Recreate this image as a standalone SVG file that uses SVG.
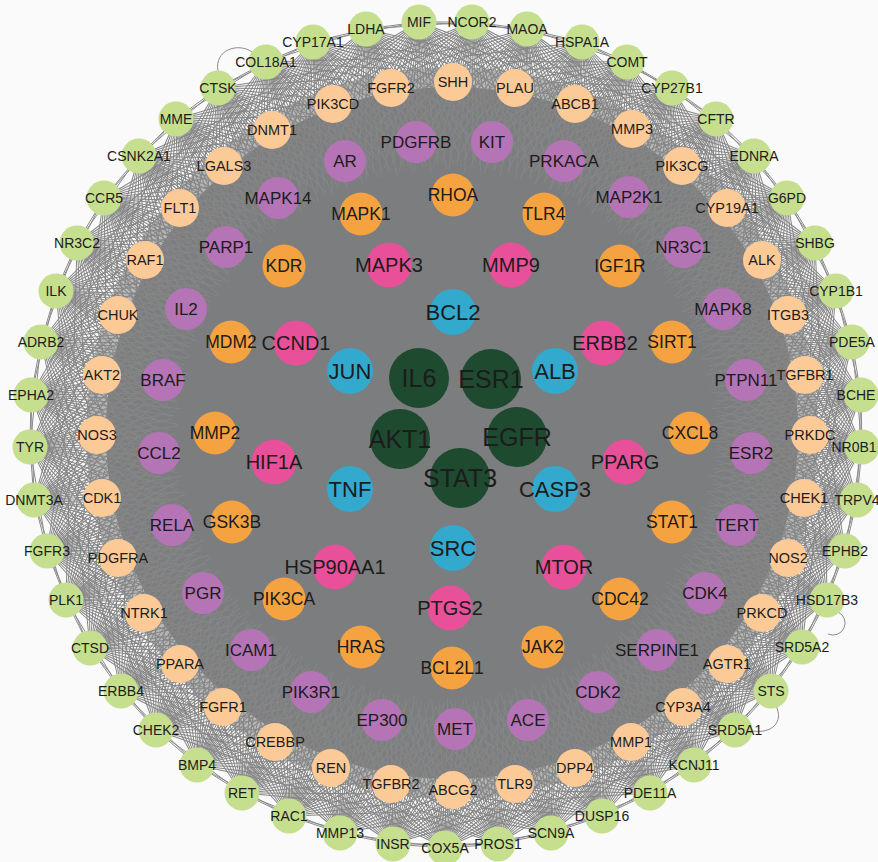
<svg xmlns="http://www.w3.org/2000/svg" xmlns:xlink="http://www.w3.org/1999/xlink" width="878" height="862" viewBox="0 0 878 862">
<style>
text{font-family:"Liberation Sans",Arial,sans-serif;text-anchor:middle;dominant-baseline:central;fill:#1c1c1c}
.d circle{fill:#1e4a2f}.d text{font-size:25px}
.b circle{fill:#33a9cd}.b text{font-size:22px}
.k circle{fill:#e9509a}.k text{font-size:20px}
.o circle{fill:#f5a340}.o text{font-size:17.5px}
.u circle{fill:#b474b6}.u text{font-size:17px}
.p circle{fill:#fcca97}.p text{font-size:14.5px}
.g circle{fill:#c6df8f}.g text{font-size:14px}
.fan{fill:none;stroke:#868686;stroke-width:1}
.ring{fill:none;stroke:#8a8a8a;stroke-width:1}
</style>
<defs>
<path id="fA" class="fan" d="M0 0H-150M0 0L-149 16M0 0L-149 -16M0 0L-147 31M0 0L-147 -31M0 0L-143 46M0 0L-143 -46M0 0L-136 63M0 0L-136 -63M0 0L-127 80M0 0L-127 -80M0 0L-111 93M0 0L-111 -93M0 0L-87 103M0 0L-87 -103M0 0L-62 108M0 0L-62 -108"/>
<path id="fB" class="fan" d="M0 0L-145 8M0 0L-145 -8M0 0L-143 23M0 0L-143 -23M0 0L-140 38M0 0L-140 -38M0 0L-134 54M0 0L-134 -54M0 0L-127 70M0 0L-127 -70M0 0L-113 82M0 0L-113 -82M0 0L-99 99M0 0L-99 -99M0 0L-75 107M0 0L-75 -107M0 0L-51 109M0 0L-51 -109"/>
<g id="f2"><use href="#fA"/><use href="#fB"/></g>
</defs>
<rect width="878" height="862" fill="#fafafa"/>
<g id="connectors">
<circle cx="452" cy="433" r="366" fill="#7e7f81" fill-opacity="0.55"/>
<circle cx="452" cy="433" r="346" fill="#7c7d7f"/>
<use href="#f2" transform="translate(419 22) rotate(-94.5)"/>
<use href="#f2" transform="translate(472 22) rotate(-87.2)"/>
<use href="#f2" transform="translate(527 29) rotate(-79.6)"/>
<use href="#f2" transform="translate(582 42) rotate(-71.8)"/>
<use href="#f2" transform="translate(627 62) rotate(-64.7)"/>
<use href="#f2" transform="translate(672 88) rotate(-57.4)"/>
<use href="#f2" transform="translate(716 119) rotate(-49.8)"/>
<use href="#f2" transform="translate(754 156) rotate(-42.5)"/>
<use href="#f2" transform="translate(787 198) rotate(-34.9)"/>
<use href="#f2" transform="translate(815 243) rotate(-27.5)"/>
<use href="#f2" transform="translate(836 291) rotate(-20.2)"/>
<use href="#f2" transform="translate(852 342) rotate(-12.7)"/>
<use href="#f2" transform="translate(861 395) rotate(-5.3)"/>
<use href="#f2" transform="translate(862 447) rotate(2.1)"/>
<use href="#f2" transform="translate(857 500) rotate(9.5)"/>
<use href="#f2" transform="translate(845 551) rotate(16.7)"/>
<use href="#f2" transform="translate(827 600) rotate(24.1)"/>
<use href="#f2" transform="translate(802 647) rotate(31.6)"/>
<use href="#f2" transform="translate(771 691) rotate(39.1)"/>
<use href="#f2" transform="translate(735 730) rotate(46.5)"/>
<use href="#f2" transform="translate(694 765) rotate(53.9)"/>
<use href="#f2" transform="translate(650 793) rotate(61.3)"/>
<use href="#f2" transform="translate(602 816) rotate(68.6)"/>
<use href="#f2" transform="translate(551 833) rotate(76.1)"/>
<use href="#f2" transform="translate(498 844) rotate(83.6)"/>
<use href="#f2" transform="translate(445 848) rotate(91)"/>
<use href="#f2" transform="translate(393 844) rotate(98.2)"/>
<use href="#f2" transform="translate(340 833) rotate(105.5)"/>
<use href="#f2" transform="translate(289 816) rotate(113.1)"/>
<use href="#f2" transform="translate(242 793) rotate(120.2)"/>
<use href="#f2" transform="translate(197 765) rotate(127.5)"/>
<use href="#f2" transform="translate(156 730) rotate(134.8)"/>
<use href="#f2" transform="translate(121 691) rotate(142)"/>
<use href="#f2" transform="translate(90 648) rotate(149.3)"/>
<use href="#f2" transform="translate(66 600) rotate(156.5)"/>
<use href="#f2" transform="translate(47 551) rotate(163.8)"/>
<use href="#f2" transform="translate(34 500) rotate(170.8)"/>
<use href="#f2" transform="translate(30 447) rotate(178)"/>
<use href="#f2" transform="translate(31 395) rotate(-174.8)"/>
<use href="#f2" transform="translate(41 342) rotate(-167.7)"/>
<use href="#f2" transform="translate(56 291) rotate(-160.4)"/>
<use href="#f2" transform="translate(77 243) rotate(-153.3)"/>
<use href="#f2" transform="translate(104 198) rotate(-146)"/>
<use href="#f2" transform="translate(139 156) rotate(-138.7)"/>
<use href="#f2" transform="translate(176 119) rotate(-131.3)"/>
<use href="#f2" transform="translate(218 88) rotate(-124.2)"/>
<use href="#f2" transform="translate(266 62) rotate(-116.8)"/>
<use href="#f2" transform="translate(313 42) rotate(-109.5)"/>
<use href="#f2" transform="translate(366 29) rotate(-102)"/>
<polygon class="ring" points="419,22 472,22 527,29 582,42 627,62 672,88 716,119 754,156 787,198 815,243 836,291 852,342 861,395 862,447 857,500 845,551 827,600 802,647 771,691 735,730 694,765 650,793 602,816 551,833 498,844 445,848 393,844 340,833 289,816 242,793 197,765 156,730 121,691 90,648 66,600 47,551 34,500 30,447 31,395 41,342 56,291 77,243 104,198 139,156 176,119 218,88 266,62 313,42 366,29"/>
<polygon class="ring" points="419,22 527,29 627,62 716,119 787,198 836,291 861,395 857,500 827,600 771,691 694,765 602,816 498,844 393,844 289,816 197,765 121,691 66,600 34,500 31,395 56,291 104,198 176,119 266,62 366,29 472,22 582,42 672,88 754,156 815,243 852,342 862,447 845,551 802,647 735,730 650,793 551,833 445,848 340,833 242,793 156,730 90,648 47,551 30,447 41,342 77,243 139,156 218,88 313,42"/>
<path class="ring" d="M218 71C214 50 238 42 252 52M776 706C784 722 772 734 752 731M838 612A12 12 0 1 1 828 634"/>
</g>
<g id="nodes">
<g id="MIF" class="g"><circle cx="419" cy="22" r="17.5"/><text x="419" y="22">MIF</text></g>
<g id="NCOR2" class="g"><circle cx="472" cy="22" r="17.5"/><text x="472" y="22">NCOR2</text></g>
<g id="MAOA" class="g"><circle cx="527" cy="29" r="17.5"/><text x="527" y="29">MAOA</text></g>
<g id="HSPA1A" class="g"><circle cx="582" cy="42" r="17.5"/><text x="582" y="42">HSPA1A</text></g>
<g id="COMT" class="g"><circle cx="627" cy="62" r="17.5"/><text x="627" y="62">COMT</text></g>
<g id="CYP27B1" class="g"><circle cx="672" cy="88" r="17.5"/><text x="672" y="88">CYP27B1</text></g>
<g id="CFTR" class="g"><circle cx="716" cy="119" r="17.5"/><text x="716" y="119">CFTR</text></g>
<g id="EDNRA" class="g"><circle cx="754" cy="156" r="17.5"/><text x="754" y="156">EDNRA</text></g>
<g id="G6PD" class="g"><circle cx="787" cy="198" r="17.5"/><text x="787" y="198">G6PD</text></g>
<g id="SHBG" class="g"><circle cx="815" cy="243" r="17.5"/><text x="815" y="243">SHBG</text></g>
<g id="CYP1B1" class="g"><circle cx="836" cy="291" r="17.5"/><text x="836" y="291">CYP1B1</text></g>
<g id="PDE5A" class="g"><circle cx="852" cy="342" r="17.5"/><text x="852" y="342">PDE5A</text></g>
<g id="BCHE" class="g"><circle cx="861" cy="395" r="17.5"/><text x="856" y="395">BCHE</text></g>
<g id="NR0B1" class="g"><circle cx="862" cy="447" r="17.5"/><text x="854" y="447">NR0B1</text></g>
<g id="TRPV4" class="g"><circle cx="857" cy="500" r="17.5"/><text x="857" y="500">TRPV4</text></g>
<g id="EPHB2" class="g"><circle cx="845" cy="551" r="17.5"/><text x="845" y="551">EPHB2</text></g>
<g id="HSD17B3" class="g"><circle cx="827" cy="600" r="17.5"/><text x="827" y="600">HSD17B3</text></g>
<g id="SRD5A2" class="g"><circle cx="802" cy="647" r="17.5"/><text x="802" y="647">SRD5A2</text></g>
<g id="STS" class="g"><circle cx="771" cy="691" r="17.5"/><text x="771" y="691">STS</text></g>
<g id="SRD5A1" class="g"><circle cx="735" cy="730" r="17.5"/><text x="735" y="730">SRD5A1</text></g>
<g id="KCNJ11" class="g"><circle cx="694" cy="765" r="17.5"/><text x="694" y="765">KCNJ11</text></g>
<g id="PDE11A" class="g"><circle cx="650" cy="793" r="17.5"/><text x="650" y="793">PDE11A</text></g>
<g id="DUSP16" class="g"><circle cx="602" cy="816" r="17.5"/><text x="602" y="816">DUSP16</text></g>
<g id="SCN9A" class="g"><circle cx="551" cy="833" r="17.5"/><text x="551" y="833">SCN9A</text></g>
<g id="PROS1" class="g"><circle cx="498" cy="844" r="17.5"/><text x="498" y="844">PROS1</text></g>
<g id="COX5A" class="g"><circle cx="445" cy="848" r="17.5"/><text x="445" y="848">COX5A</text></g>
<g id="INSR" class="g"><circle cx="393" cy="844" r="17.5"/><text x="393" y="844">INSR</text></g>
<g id="MMP13" class="g"><circle cx="340" cy="833" r="17.5"/><text x="340" y="833">MMP13</text></g>
<g id="RAC1" class="g"><circle cx="289" cy="816" r="17.5"/><text x="289" y="816">RAC1</text></g>
<g id="RET" class="g"><circle cx="242" cy="793" r="17.5"/><text x="242" y="793">RET</text></g>
<g id="BMP4" class="g"><circle cx="197" cy="765" r="17.5"/><text x="197" y="765">BMP4</text></g>
<g id="CHEK2" class="g"><circle cx="156" cy="730" r="17.5"/><text x="156" y="730">CHEK2</text></g>
<g id="ERBB4" class="g"><circle cx="121" cy="691" r="17.5"/><text x="121" y="691">ERBB4</text></g>
<g id="CTSD" class="g"><circle cx="90" cy="648" r="17.5"/><text x="90" y="648">CTSD</text></g>
<g id="PLK1" class="g"><circle cx="66" cy="600" r="17.5"/><text x="66" y="600">PLK1</text></g>
<g id="FGFR3" class="g"><circle cx="47" cy="551" r="17.5"/><text x="47" y="551">FGFR3</text></g>
<g id="DNMT3A" class="g"><circle cx="34" cy="500" r="17.5"/><text x="34" y="500">DNMT3A</text></g>
<g id="TYR" class="g"><circle cx="30" cy="447" r="17.5"/><text x="30" y="447">TYR</text></g>
<g id="EPHA2" class="g"><circle cx="31" cy="395" r="17.5"/><text x="31" y="395">EPHA2</text></g>
<g id="ADRB2" class="g"><circle cx="41" cy="342" r="17.5"/><text x="41" y="342">ADRB2</text></g>
<g id="ILK" class="g"><circle cx="56" cy="291" r="17.5"/><text x="56" y="291">ILK</text></g>
<g id="NR3C2" class="g"><circle cx="77" cy="243" r="17.5"/><text x="77" y="243">NR3C2</text></g>
<g id="CCR5" class="g"><circle cx="104" cy="198" r="17.5"/><text x="104" y="198">CCR5</text></g>
<g id="CSNK2A1" class="g"><circle cx="139" cy="156" r="17.5"/><text x="139" y="156">CSNK2A1</text></g>
<g id="MME" class="g"><circle cx="176" cy="119" r="17.5"/><text x="176" y="119">MME</text></g>
<g id="CTSK" class="g"><circle cx="218" cy="88" r="17.5"/><text x="218" y="88">CTSK</text></g>
<g id="COL18A1" class="g"><circle cx="266" cy="62" r="17.5"/><text x="266" y="62">COL18A1</text></g>
<g id="CYP17A1" class="g"><circle cx="313" cy="42" r="17.5"/><text x="313" y="42">CYP17A1</text></g>
<g id="LDHA" class="g"><circle cx="366" cy="29" r="17.5"/><text x="366" y="29">LDHA</text></g>

<g id="FGFR2" class="p"><circle cx="391" cy="88" r="19"/><text x="391" y="88">FGFR2</text></g>
<g id="SHH" class="p"><circle cx="453" cy="82" r="19"/><text x="453" y="82">SHH</text></g>
<g id="PLAU" class="p"><circle cx="515" cy="88" r="19"/><text x="515" y="88">PLAU</text></g>
<g id="PIK3CD" class="p"><circle cx="333" cy="104" r="19"/><text x="333" y="104">PIK3CD</text></g>
<g id="ABCB1" class="p"><circle cx="575" cy="104" r="19"/><text x="575" y="104">ABCB1</text></g>
<g id="DNMT1" class="p"><circle cx="272" cy="130" r="19"/><text x="272" y="130">DNMT1</text></g>
<g id="MMP3" class="p"><circle cx="632" cy="129" r="19"/><text x="632" y="129">MMP3</text></g>
<g id="LGALS3" class="p"><circle cx="224" cy="166" r="19"/><text x="224" y="166">LGALS3</text></g>
<g id="PIK3CG" class="p"><circle cx="682" cy="166" r="19"/><text x="682" y="166">PIK3CG</text></g>
<g id="FLT1" class="p"><circle cx="180" cy="208" r="19"/><text x="180" y="208">FLT1</text></g>
<g id="CYP19A1" class="p"><circle cx="727" cy="208" r="19"/><text x="727" y="208">CYP19A1</text></g>
<g id="RAF1" class="p"><circle cx="145" cy="260" r="19"/><text x="145" y="260">RAF1</text></g>
<g id="ALK" class="p"><circle cx="762" cy="260" r="19"/><text x="762" y="260">ALK</text></g>
<g id="CHUK" class="p"><circle cx="118" cy="315" r="19"/><text x="118" y="315">CHUK</text></g>
<g id="ITGB3" class="p"><circle cx="788" cy="315" r="19"/><text x="788" y="315">ITGB3</text></g>
<g id="AKT2" class="p"><circle cx="102" cy="375" r="19"/><text x="102" y="375">AKT2</text></g>
<g id="TGFBR1" class="p"><circle cx="805" cy="375" r="19"/><text x="805" y="375">TGFBR1</text></g>
<g id="NOS3" class="p"><circle cx="97" cy="435" r="19"/><text x="97" y="435">NOS3</text></g>
<g id="PRKDC" class="p"><circle cx="810" cy="435" r="19"/><text x="810" y="435">PRKDC</text></g>
<g id="CDK1" class="p"><circle cx="102" cy="498" r="19"/><text x="102" y="498">CDK1</text></g>
<g id="CHEK1" class="p"><circle cx="804" cy="498" r="19"/><text x="804" y="498">CHEK1</text></g>
<g id="PDGFRA" class="p"><circle cx="118" cy="558" r="19"/><text x="118" y="558">PDGFRA</text></g>
<g id="NOS2" class="p"><circle cx="788" cy="558" r="19"/><text x="788" y="558">NOS2</text></g>
<g id="NTRK1" class="p"><circle cx="144" cy="613" r="19"/><text x="144" y="613">NTRK1</text></g>
<g id="PRKCD" class="p"><circle cx="762" cy="613" r="19"/><text x="762" y="613">PRKCD</text></g>
<g id="PPARA" class="p"><circle cx="180" cy="664" r="19"/><text x="180" y="664">PPARA</text></g>
<g id="AGTR1" class="p"><circle cx="727" cy="664" r="19"/><text x="727" y="664">AGTR1</text></g>
<g id="FGFR1" class="p"><circle cx="223" cy="707" r="19"/><text x="223" y="707">FGFR1</text></g>
<g id="CYP3A4" class="p"><circle cx="683" cy="707" r="19"/><text x="683" y="707">CYP3A4</text></g>
<g id="CREBBP" class="p"><circle cx="275" cy="742" r="19"/><text x="275" y="742">CREBBP</text></g>
<g id="MMP1" class="p"><circle cx="631" cy="742" r="19"/><text x="631" y="742">MMP1</text></g>
<g id="REN" class="p"><circle cx="331" cy="768" r="19"/><text x="331" y="768">REN</text></g>
<g id="DPP4" class="p"><circle cx="575" cy="768" r="19"/><text x="575" y="768">DPP4</text></g>
<g id="TGFBR2" class="p"><circle cx="391" cy="784" r="19"/><text x="391" y="784">TGFBR2</text></g>
<g id="TLR9" class="p"><circle cx="515" cy="784" r="19"/><text x="515" y="784">TLR9</text></g>
<g id="ABCG2" class="p"><circle cx="453" cy="790" r="19"/><text x="453" y="790">ABCG2</text></g>

<g id="PDGFRB" class="u"><circle cx="416" cy="142" r="21"/><text x="416" y="142">PDGFRB</text></g>
<g id="KIT" class="u"><circle cx="492" cy="142" r="21"/><text x="492" y="142">KIT</text></g>
<g id="AR" class="u"><circle cx="345" cy="161" r="21"/><text x="345" y="161">AR</text></g>
<g id="PRKACA" class="u"><circle cx="564" cy="161" r="21"/><text x="564" y="161">PRKACA</text></g>
<g id="MAPK14" class="u"><circle cx="278" cy="198" r="21"/><text x="278" y="198">MAPK14</text></g>
<g id="MAP2K1" class="u"><circle cx="629" cy="197" r="21"/><text x="629" y="197">MAP2K1</text></g>
<g id="PARP1" class="u"><circle cx="226" cy="247" r="21"/><text x="226" y="247">PARP1</text></g>
<g id="NR3C1" class="u"><circle cx="683" cy="247" r="21"/><text x="683" y="247">NR3C1</text></g>
<g id="IL2" class="u"><circle cx="186" cy="309" r="21"/><text x="186" y="309">IL2</text></g>
<g id="MAPK8" class="u"><circle cx="723" cy="309" r="21"/><text x="723" y="309">MAPK8</text></g>
<g id="BRAF" class="u"><circle cx="163" cy="380" r="21"/><text x="163" y="380">BRAF</text></g>
<g id="PTPN11" class="u"><circle cx="746" cy="380" r="21"/><text x="746" y="380">PTPN11</text></g>
<g id="CCL2" class="u"><circle cx="159" cy="453" r="21"/><text x="159" y="453">CCL2</text></g>
<g id="ESR2" class="u"><circle cx="751" cy="453" r="21"/><text x="751" y="453">ESR2</text></g>
<g id="RELA" class="u"><circle cx="172" cy="525" r="21"/><text x="172" y="525">RELA</text></g>
<g id="TERT" class="u"><circle cx="737" cy="525" r="21"/><text x="737" y="525">TERT</text></g>
<g id="PGR" class="u"><circle cx="203" cy="593" r="21"/><text x="203" y="593">PGR</text></g>
<g id="CDK4" class="u"><circle cx="705" cy="593" r="21"/><text x="705" y="593">CDK4</text></g>
<g id="ICAM1" class="u"><circle cx="251" cy="650" r="21"/><text x="251" y="650">ICAM1</text></g>
<g id="SERPINE1" class="u"><circle cx="657" cy="650" r="21"/><text x="657" y="650">SERPINE1</text></g>
<g id="PIK3R1" class="u"><circle cx="311" cy="692" r="21"/><text x="311" y="692">PIK3R1</text></g>
<g id="CDK2" class="u"><circle cx="598" cy="692" r="21"/><text x="598" y="692">CDK2</text></g>
<g id="EP300" class="u"><circle cx="382" cy="720" r="21"/><text x="382" y="720">EP300</text></g>
<g id="MET" class="u"><circle cx="455" cy="729" r="21"/><text x="455" y="729">MET</text></g>
<g id="ACE" class="u"><circle cx="528" cy="720" r="21"/><text x="528" y="720">ACE</text></g>

<g id="RHOA" class="o"><circle cx="453" cy="195" r="21.5"/><text x="453" y="195">RHOA</text></g>
<g id="MAPK1" class="o"><circle cx="361" cy="214" r="21.5"/><text x="361" y="214">MAPK1</text></g>
<g id="TLR4" class="o"><circle cx="544" cy="214" r="21.5"/><text x="544" y="214">TLR4</text></g>
<g id="KDR" class="o"><circle cx="284" cy="266" r="21.5"/><text x="284" y="266">KDR</text></g>
<g id="IGF1R" class="o"><circle cx="620" cy="266" r="21.5"/><text x="620" y="266">IGF1R</text></g>
<g id="MDM2" class="o"><circle cx="231" cy="342" r="21.5"/><text x="231" y="342">MDM2</text></g>
<g id="SIRT1" class="o"><circle cx="672" cy="342" r="21.5"/><text x="672" y="342">SIRT1</text></g>
<g id="MMP2" class="o"><circle cx="215" cy="433" r="21.5"/><text x="215" y="433">MMP2</text></g>
<g id="CXCL8" class="o"><circle cx="690" cy="433" r="21.5"/><text x="690" y="433">CXCL8</text></g>
<g id="GSK3B" class="o"><circle cx="232" cy="522" r="21.5"/><text x="232" y="522">GSK3B</text></g>
<g id="STAT1" class="o"><circle cx="672" cy="522" r="21.5"/><text x="672" y="522">STAT1</text></g>
<g id="PIK3CA" class="o"><circle cx="284" cy="599" r="21.5"/><text x="284" y="599">PIK3CA</text></g>
<g id="CDC42" class="o"><circle cx="620" cy="599" r="21.5"/><text x="620" y="599">CDC42</text></g>
<g id="HRAS" class="o"><circle cx="361" cy="647" r="21.5"/><text x="361" y="647">HRAS</text></g>
<g id="BCL2L1" class="o"><circle cx="452" cy="668" r="21.5"/><text x="452" y="668">BCL2L1</text></g>
<g id="JAK2" class="o"><circle cx="543" cy="647" r="21.5"/><text x="543" y="647">JAK2</text></g>

<g id="MAPK3" class="k"><circle cx="389" cy="265" r="22.5"/><text x="389" y="265">MAPK3</text></g>
<g id="MMP9" class="k"><circle cx="511" cy="265" r="22.5"/><text x="511" y="265">MMP9</text></g>
<g id="CCND1" class="k"><circle cx="296" cy="343" r="22.5"/><text x="296" y="343">CCND1</text></g>
<g id="ERBB2" class="k"><circle cx="603" cy="343" r="22.5"/><text x="605" y="343">ERBB2</text></g>
<g id="HIF1A" class="k"><circle cx="274" cy="462" r="22.5"/><text x="274" y="462">HIF1A</text></g>
<g id="PPARG" class="k"><circle cx="625" cy="462" r="22.5"/><text x="625" y="462">PPARG</text></g>
<g id="HSP90AA1" class="k"><circle cx="335" cy="567" r="22.5"/><text x="335" y="567">HSP90AA1</text></g>
<g id="MTOR" class="k"><circle cx="564" cy="567" r="22.5"/><text x="564" y="567">MTOR</text></g>
<g id="PTGS2" class="k"><circle cx="450" cy="608" r="22.5"/><text x="450" y="608">PTGS2</text></g>

<g id="BCL2" class="b"><circle cx="453" cy="312" r="23"/><text x="453" y="312">BCL2</text></g>
<g id="JUN" class="b"><circle cx="350" cy="371" r="23"/><text x="350" y="371">JUN</text></g>
<g id="ALB" class="b"><circle cx="555" cy="371" r="23"/><text x="555" y="371">ALB</text></g>
<g id="TNF" class="b"><circle cx="350" cy="489" r="23"/><text x="350" y="489">TNF</text></g>
<g id="CASP3" class="b"><circle cx="555" cy="489" r="23"/><text x="555" y="489">CASP3</text></g>
<g id="SRC" class="b"><circle cx="453" cy="548" r="23"/><text x="453" y="548">SRC</text></g>

<g id="IL6" class="d"><circle cx="419" cy="378" r="30"/><text x="419" y="378">IL6</text></g>
<g id="ESR1" class="d"><circle cx="491" cy="379" r="30"/><text x="491" y="379">ESR1</text></g>
<g id="AKT1" class="d"><circle cx="400" cy="439" r="30"/><text x="400" y="439">AKT1</text></g>
<g id="EGFR" class="d"><circle cx="517" cy="437" r="30"/><text x="517" y="437">EGFR</text></g>
<g id="STAT3" class="d"><circle cx="460" cy="478" r="30"/><text x="460" y="478">STAT3</text></g>
</g>
</svg>
